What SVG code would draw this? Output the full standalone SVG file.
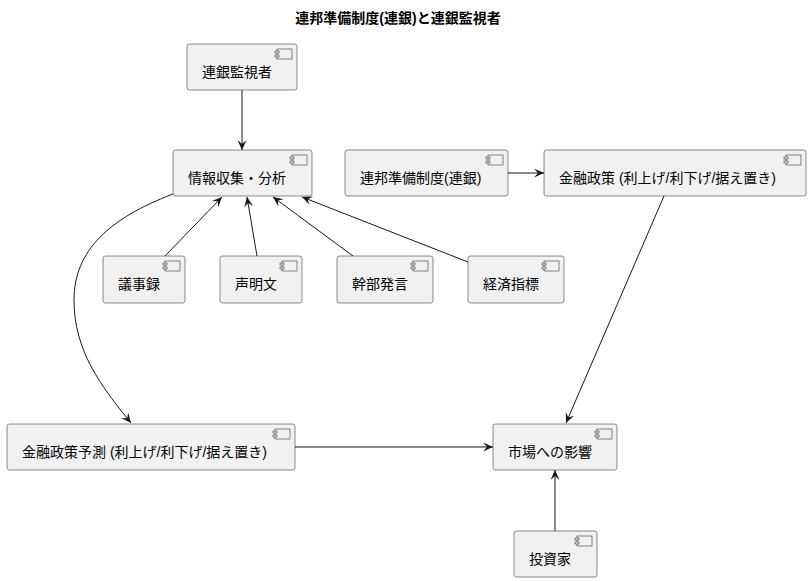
<svg xmlns="http://www.w3.org/2000/svg" width="809" height="581" viewBox="0 0 809 581">
<style>
.box{fill:#F1F1F1;stroke:#181818;stroke-width:0.5}
.ic{fill:#F1F1F1;stroke:#181818;stroke-width:0.5}
.lbl{font-family:"Liberation Sans","Noto Sans CJK JP",sans-serif;font-size:14px;fill:#000}
.title{font-family:"Liberation Sans","Noto Sans CJK JP",sans-serif;font-size:14px;font-weight:bold;fill:#000}
.edge{fill:none;stroke:#181818;stroke-width:1}
</style>
<defs>
<marker id="ah" markerUnits="userSpaceOnUse" markerWidth="12" markerHeight="10" refX="10" refY="4.5" orient="auto">
<path d="M0,0 L10,4.5 L0,9 L4,4.5 Z" fill="#181818"/>
</marker>
<g id="icon">
<rect class="ic" x="0" y="0" width="15" height="10"/>
<rect class="ic" x="-2" y="2" width="4" height="2"/>
<rect class="ic" x="-2" y="6" width="4" height="2"/>
</g>
</defs>
<rect width="809" height="581" fill="#FFFFFF"/>
<text class="title" x="398" y="23" text-anchor="middle">連邦準備制度(連銀)と連銀監視者</text>

<g id="connectors">
<path class="edge" d="M242,90 L242,150" marker-end="url(#ah)"/>
<path class="edge" d="M508,173 L544,173" marker-end="url(#ah)"/>
<path class="edge" d="M165,256 L222,197" marker-end="url(#ah)"/>
<path class="edge" d="M257,256 L247,197" marker-end="url(#ah)"/>
<path class="edge" d="M353,256 L273,197" marker-end="url(#ah)"/>
<path class="edge" d="M468,262 L302,197" marker-end="url(#ah)"/>
<path class="edge" d="M173,194 C110,218 74,250 74,300 C74,350 100,385 131,423" marker-end="url(#ah)"/>
<path class="edge" d="M664,196 L566,423" marker-end="url(#ah)"/>
<path class="edge" d="M295,447 L493,447" marker-end="url(#ah)"/>
<path class="edge" d="M555,531 L555,470" marker-end="url(#ah)"/>
</g>

<g id="n_watcher">
<rect class="box" x="187" y="44" width="110" height="46" rx="2.5"/>
<use href="#icon" x="277" y="49"/>
<text class="lbl" x="202" y="77">連銀監視者</text>
</g>
<g id="n_info">
<rect class="box" x="173" y="150" width="139" height="46" rx="2.5"/>
<use href="#icon" x="292" y="155"/>
<text class="lbl" x="188" y="183">情報収集・分析</text>
</g>
<g id="n_fed">
<rect class="box" x="345" y="150" width="163" height="46" rx="2.5"/>
<use href="#icon" x="488" y="155"/>
<text class="lbl" x="360" y="183">連邦準備制度(連銀)</text>
</g>
<g id="n_policy">
<rect class="box" x="544" y="150" width="262" height="46" rx="2.5"/>
<use href="#icon" x="786" y="155"/>
<text class="lbl" x="559" y="183">金融政策 (利上げ/利下げ/据え置き)</text>
</g>
<g id="n_minutes">
<rect class="box" x="103" y="256" width="82" height="47" rx="2.5"/>
<use href="#icon" x="165" y="261"/>
<text class="lbl" x="118" y="289">議事録</text>
</g>
<g id="n_statement">
<rect class="box" x="220" y="256" width="82" height="47" rx="2.5"/>
<use href="#icon" x="282" y="261"/>
<text class="lbl" x="235" y="289">声明文</text>
</g>
<g id="n_speech">
<rect class="box" x="337" y="256" width="96" height="47" rx="2.5"/>
<use href="#icon" x="413" y="261"/>
<text class="lbl" x="352" y="289">幹部発言</text>
</g>
<g id="n_econ">
<rect class="box" x="468" y="256" width="96" height="47" rx="2.5"/>
<use href="#icon" x="544" y="261"/>
<text class="lbl" x="483" y="289">経済指標</text>
</g>
<g id="n_forecast">
<rect class="box" x="7" y="424" width="288" height="46" rx="2.5"/>
<use href="#icon" x="275" y="429"/>
<text class="lbl" x="22" y="457">金融政策予測 (利上げ/利下げ/据え置き)</text>
</g>
<g id="n_market">
<rect class="box" x="493" y="424" width="124" height="46" rx="2.5"/>
<use href="#icon" x="597" y="429"/>
<text class="lbl" x="508" y="457">市場への影響</text>
</g>
<g id="n_investor">
<rect class="box" x="514" y="531" width="83" height="46" rx="2.5"/>
<use href="#icon" x="577" y="536"/>
<text class="lbl" x="529" y="564">投資家</text>
</g>
</svg>
